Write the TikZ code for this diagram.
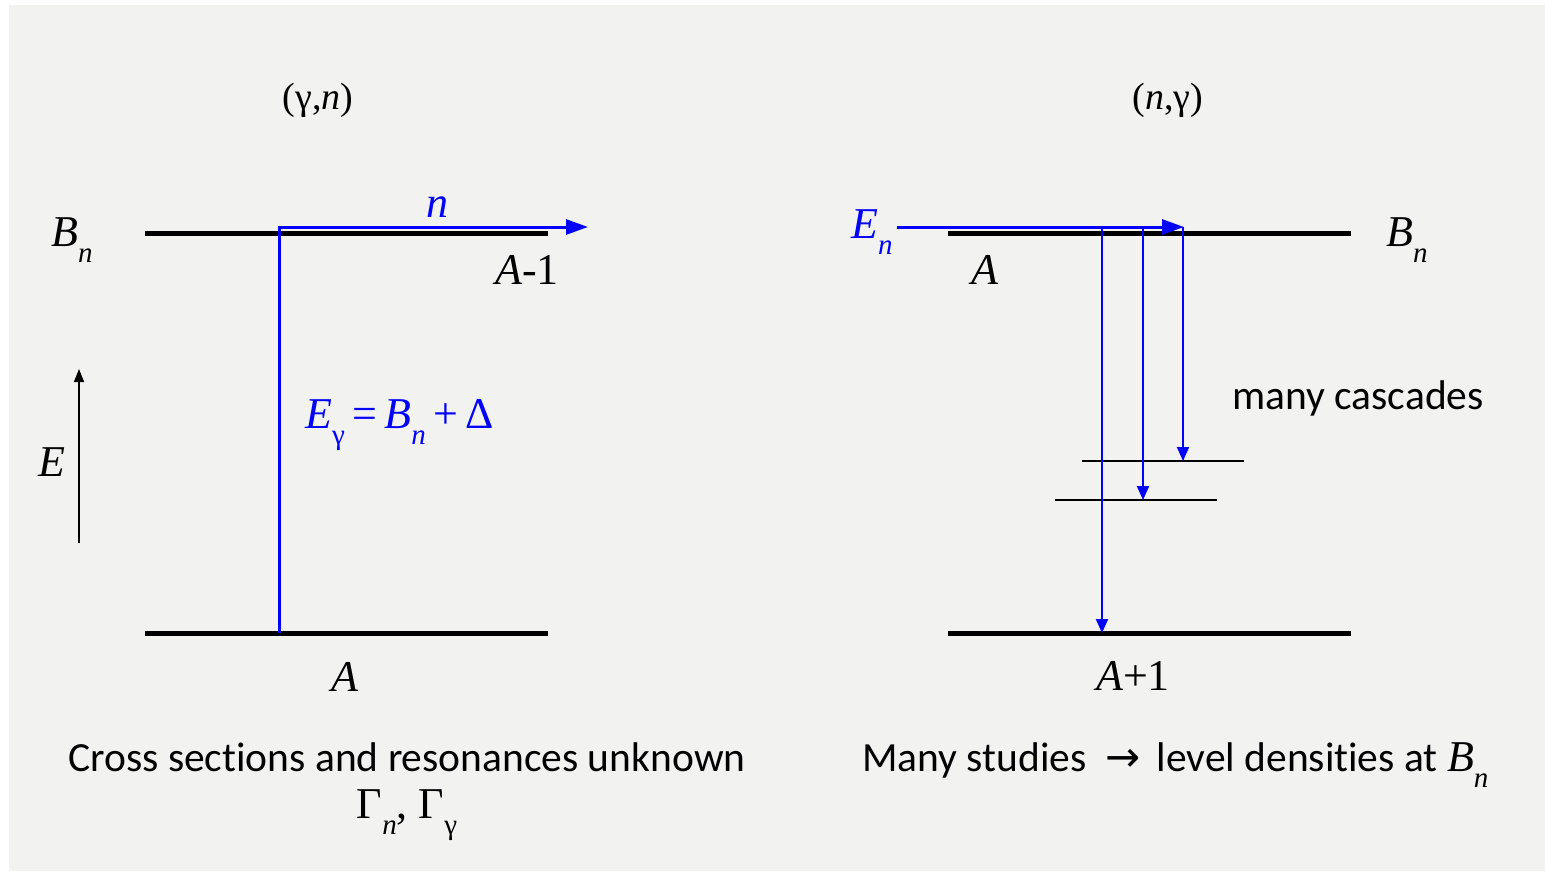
\documentclass[tikz,border=0pt]{standalone}
\usepackage{fontspec}
\setmainfont{Liberation Serif}
\setsansfont[Ligatures=NoCommon]{Carlito}
\newfontfamily\tms{Liberation Serif}
\newfontfamily\symb{DejaVu Sans}
\usetikzlibrary{arrows.meta}
\definecolor{slidegray}{RGB}{242,242,240}
\definecolor{rayblue}{RGB}{0,0,255}
\newcommand{\var}[1]{{\tms\itshape #1}}
\newcommand{\idx}[1]{\raisebox{-0.38em}{\tms\fontsize{29}{29}\selectfont\itshape #1}}
\tikzset{
  level_line/.style = {line width=5pt, black},% niveau principal
  sub_line/.style = {line width=2.5pt, black},% niveau intermediaire
  beam/.style = {line width=3pt, rayblue, -{Triangle[length=22pt, width=15pt]}},
  cascade/.style = {line width=2pt, rayblue, -{Triangle[length=14pt, width=12pt]}},
  math_label/.style = {inner sep=0pt, font=\tms\fontsize{44}{48}\selectfont},
  title_label/.style = {inner sep=0pt, font=\tms\fontsize{38}{42}\selectfont},
  note_label/.style = {inner sep=0pt, font=\sffamily\fontsize{41.5}{44}\selectfont}
}
\begin{document}
\begin{tikzpicture}[x=1pt, y=-1pt]
    \fill [slidegray] (9,5) rectangle (1545,871);
    \useasboundingbox (0,0) rectangle (1545,873);

    % (gamma,n)
    \coordinate (bnL1) at (145,233);
    \coordinate (bnL2) at (548,233);
    \coordinate (gsL1) at (145,633);
    \coordinate (gsL2) at (548,633);
    \draw [level_line] (bnL1) -- (bnL2);
    \draw [level_line] (gsL1) -- (gsL2);
    \coordinate (photonL) at (279,633);
    \coordinate (cornerL) at (279,227);
    \coordinate (neutronL) at (588,227);
    \draw [beam] (photonL) -- (cornerL) -- (neutronL);

    \node [title_label] (titleL) at (318,100) {(γ,\var{n})};
    \node [math_label] (bnlabL) at (72,240) {\var{B}\idx{n}};
    \node [math_label, rayblue] (nlab) at (437,207) {\var{n}};
    \node [math_label] (aminus) at (527,270) {\var{A}-1};
    \node [math_label] (alabL) at (345,677) {\var{A}};
    \node [math_label, rayblue, anchor=west] (eglab) at (305,425)
      {\var{E}\idx{\upshape γ}\,=\,\var{B}\idx{n}\,+\,Δ};
    \node [math_label] (elab) at (52,462) {\var{E}};
    \coordinate (eaxis1) at (79,543);
    \coordinate (eaxis2) at (79,369);
    \draw [line width=1.5pt, -{Triangle[length=13pt, width=10pt]}] (eaxis1) -- (eaxis2);

    \node [note_label, anchor=base] (noteL) at (407,771) {Cross sections and resonances unknown};
    \node [math_label, anchor=base] (widths) at (407,818) {Γ\idx{n}, Γ\idx{\upshape γ}};

    % (n,gamma)
    \coordinate (bnR1) at (948,233);
    \coordinate (bnR2) at (1351,233);
    \coordinate (gsR1) at (948,633);
    \coordinate (gsR2) at (1351,633);
    \draw [level_line] (bnR1) -- (bnR2);
    \draw [level_line] (gsR1) -- (gsR2);
    \coordinate (lvA1) at (1082,461);
    \coordinate (lvA2) at (1244,461);
    \coordinate (lvB1) at (1055,500);
    \coordinate (lvB2) at (1217,500);
    \draw [sub_line] (lvA1) -- (lvA2);
    \draw [sub_line] (lvB1) -- (lvB2);

    \coordinate (beamIn) at (897,227);
    \coordinate (capture) at (1184,227);
    \draw [beam] (beamIn) -- (capture);
    \foreach \xc/\yend in {1102/633, 1143/500, 1183/461}
      \draw [cascade] (\xc,227) -- (\xc,\yend);

    \node [title_label] (titleR) at (1168,100) {(\var{n},γ)};
    \node [math_label, rayblue] (enlab) at (872,232) {\var{E}\idx{n}};
    \node [math_label] (alabR) at (985,270) {\var{A}};
    \node [math_label] (bnlabR) at (1407,240) {\var{B}\idx{n}};
    \node [math_label] (aplus) at (1133,676) {\var{A}+1};
    \node [note_label] (casc) at (1358,398) {many cascades};
    \node [note_label, anchor=base west] (noteR) at (862,771)
      {Many studies \ {\symb\fontsize{42}{44}\selectfont →}\ \,level densities at {\tms\fontsize{44}{48}\selectfont\var{B}\idx{n}}};
\end{tikzpicture}
\end{document}
